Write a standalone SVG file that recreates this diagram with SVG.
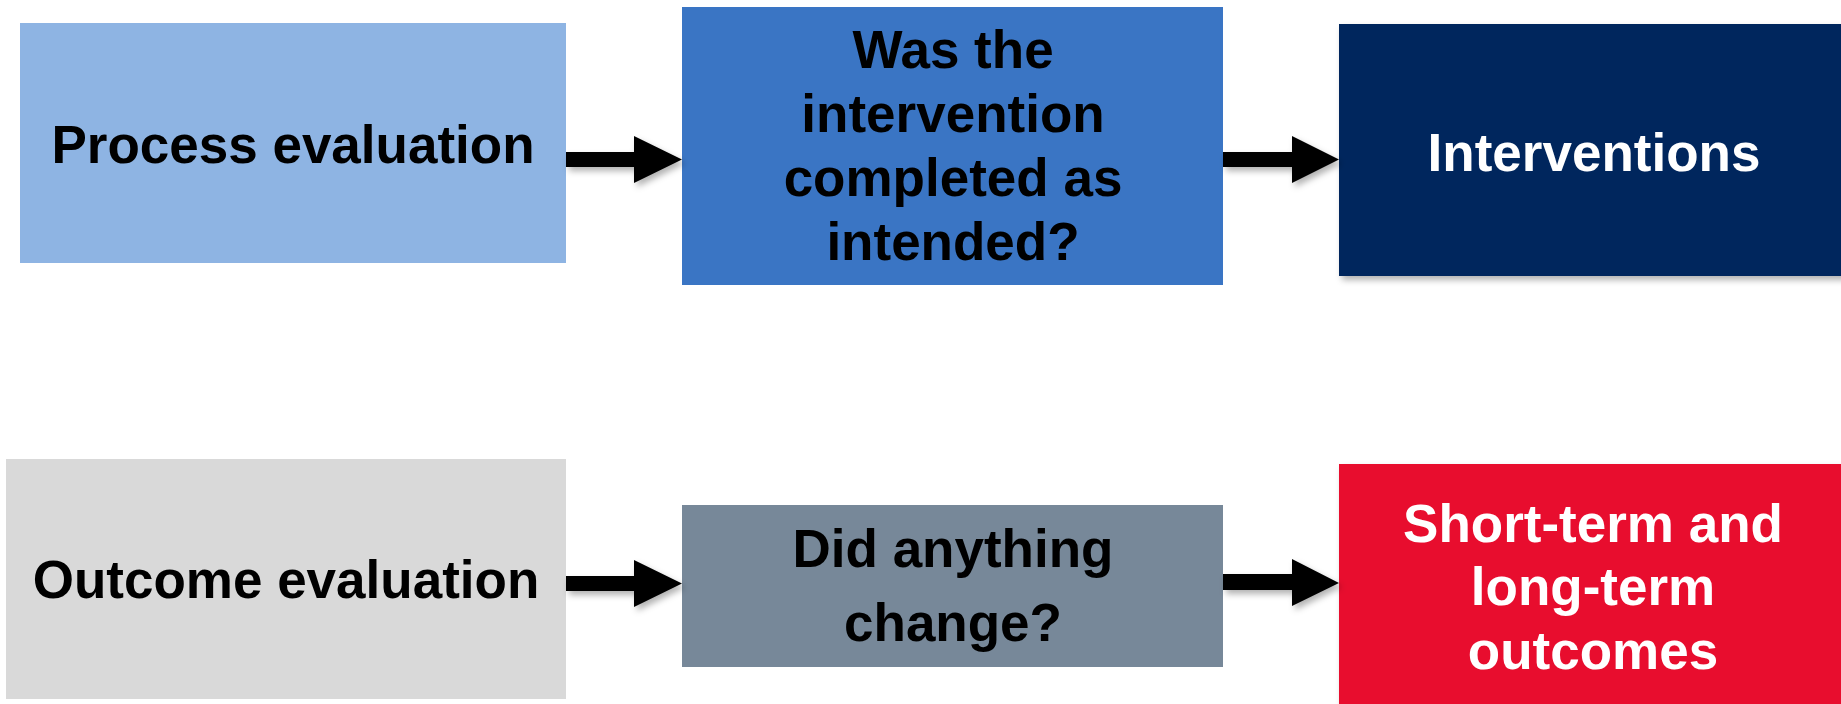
<svg xmlns="http://www.w3.org/2000/svg" width="1841" height="704" viewBox="0 0 1841 704">
<defs>
<filter id="sh" x="-10%" y="-10%" width="130%" height="140%">
<feDropShadow dx="3" dy="4" stdDeviation="3" flood-color="#000" flood-opacity="0.3"/>
</filter>
<style>
.t{font-family:"Liberation Sans",Arial,sans-serif;font-weight:bold;font-size:53px;text-anchor:middle}
.dk{fill:#000}
.wh{fill:#fff}
.arr{fill:#000;filter:url(#sh)}
</style>
</defs>
<rect width="1841" height="704" fill="#fff"/>
<g id="process-evaluation">
<rect x="20" y="23" width="546" height="240" fill="#8EB4E3"/>
<text class="t dk" x="293" y="163">Process evaluation</text>
</g>
<g id="completed-as-intended">
<rect x="682" y="7" width="541" height="278" fill="#3A75C4"/>
<text class="t dk" x="953" y="68">Was the</text>
<text class="t dk" x="953" y="132">intervention</text>
<text class="t dk" x="953" y="196">completed as</text>
<text class="t dk" x="953" y="260">intended?</text>
</g>
<g id="interventions">
<rect x="1339" y="24" width="510" height="252" fill="#00265D" filter="url(#sh)"/>
<text class="t wh" x="1594" y="171">Interventions</text>
</g>
<g id="outcome-evaluation">
<rect x="6" y="459" width="560" height="240" fill="#D9D9D9"/>
<text class="t dk" x="286" y="598">Outcome evaluation</text>
</g>
<g id="anything-change">
<rect x="682" y="505" width="541" height="162" fill="#778899"/>
<text class="t dk" x="953" y="567">Did anything</text>
<text class="t dk" x="953" y="641">change?</text>
</g>
<g id="outcomes">
<rect x="1339" y="464" width="510" height="250" fill="#E8112D" filter="url(#sh)"/>
<text class="t wh" x="1593" y="542">Short-term and</text>
<text class="t wh" x="1593" y="605">long-term</text>
<text class="t wh" x="1593" y="669">outcomes</text>
</g>
<g id="connectors">
<polygon class="arr" points="566,152 634,152 634,136 682,159.5 634,183 634,167 566,167"/>
<polygon class="arr" points="1223,152 1292,152 1292,136 1339,159.5 1292,183 1292,167 1223,167"/>
<polygon class="arr" points="566,576 634,576 634,560 682,583.5 634,607 634,591 566,591"/>
<polygon class="arr" points="1223,574 1292,574 1292,559 1339,583 1292,606 1292,590 1223,590"/>
</g>
</svg>
